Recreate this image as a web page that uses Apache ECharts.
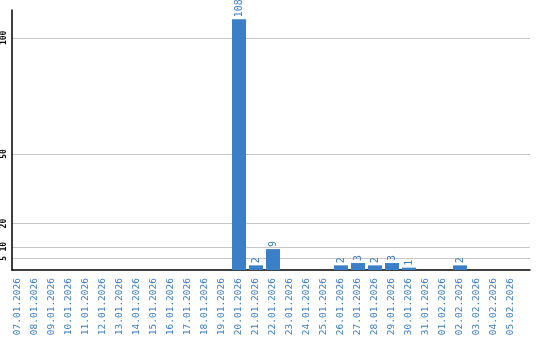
<!DOCTYPE html>
<html><head><meta charset="utf-8">
<script src="https://cdn.jsdelivr.net/npm/echarts@6/dist/echarts.min.js"></script>
<style>html,body{margin:0;padding:0;background:#fff}#c{width:540px;height:340px}</style>
</head><body><div id="c"></div>
<script>
const categories = ['07.01.2026','08.01.2026','09.01.2026','10.01.2026','11.01.2026','12.01.2026','13.01.2026','14.01.2026','15.01.2026','16.01.2026','17.01.2026','18.01.2026','19.01.2026','20.01.2026','21.01.2026','22.01.2026','23.01.2026','24.01.2026','25.01.2026','26.01.2026','27.01.2026','28.01.2026','29.01.2026','30.01.2026','31.01.2026','01.02.2026','02.02.2026','03.02.2026','04.02.2026','05.02.2026'];
const values = [0,0,0,0,0,0,0,0,0,0,0,0,0,108,2,9,0,0,0,2,3,2,3,1,0,0,2,0,0,0];
const yTicks = [5,10,20,50,100];
const yMax = 112;

const chart = echarts.init(document.getElementById('c'), null, {renderer:'canvas'});
chart.setOption({
  animation:false,
  grid:[
    {left:9.5, width:510, top:10, bottom:70, containLabel:false},
    {left:11, right:10, top:10, bottom:70, containLabel:false}
  ],
  xAxis:[
    {type:'category', gridIndex:0, data:categories,
     axisLine:{show:false}, axisTick:{show:false},
     axisLabel:{rotate:90, interval:0, color:'#3a7cc4', fontFamily:'DejaVu Sans Mono', fontSize:9.5, margin:8}},
    {type:'value', gridIndex:1, min:0, max:1, show:true,
     axisLine:{show:true, onZero:false, lineStyle:{color:'#000', width:1.5}},
     axisTick:{show:false}, axisLabel:{show:false}, splitLine:{show:false}}
  ],
  yAxis:[
    {type:'value', gridIndex:0, min:0, max:yMax, show:false, splitLine:{show:false}},
    {type:'value', gridIndex:1, min:0, max:yMax,
     axisLine:{show:true, lineStyle:{color:'#000', width:1.5}},
     axisTick:{show:false, customValues:yTicks},
     axisLabel:{customValues:yTicks, rotate:90, color:'#000', fontFamily:'DejaVu Sans Mono', fontSize:8, fontWeight:'bold', margin:4},
     splitLine:{show:true, lineStyle:{color:'#c8c8c8', width:1}}}
  ],
  series:[{
    type:'bar', xAxisIndex:0, yAxisIndex:0, data:values, barWidth:14,
    itemStyle:{color:'#3a7fc8'},
    label:{show:true, position:'top', rotate:90, align:'left', verticalAlign:'middle', distance:2,
      color:'#3a7cc4', fontFamily:'DejaVu Sans Mono', fontSize:10,
      formatter:p=>p.value?String(p.value):''}
  }]
});
</script></body></html>
